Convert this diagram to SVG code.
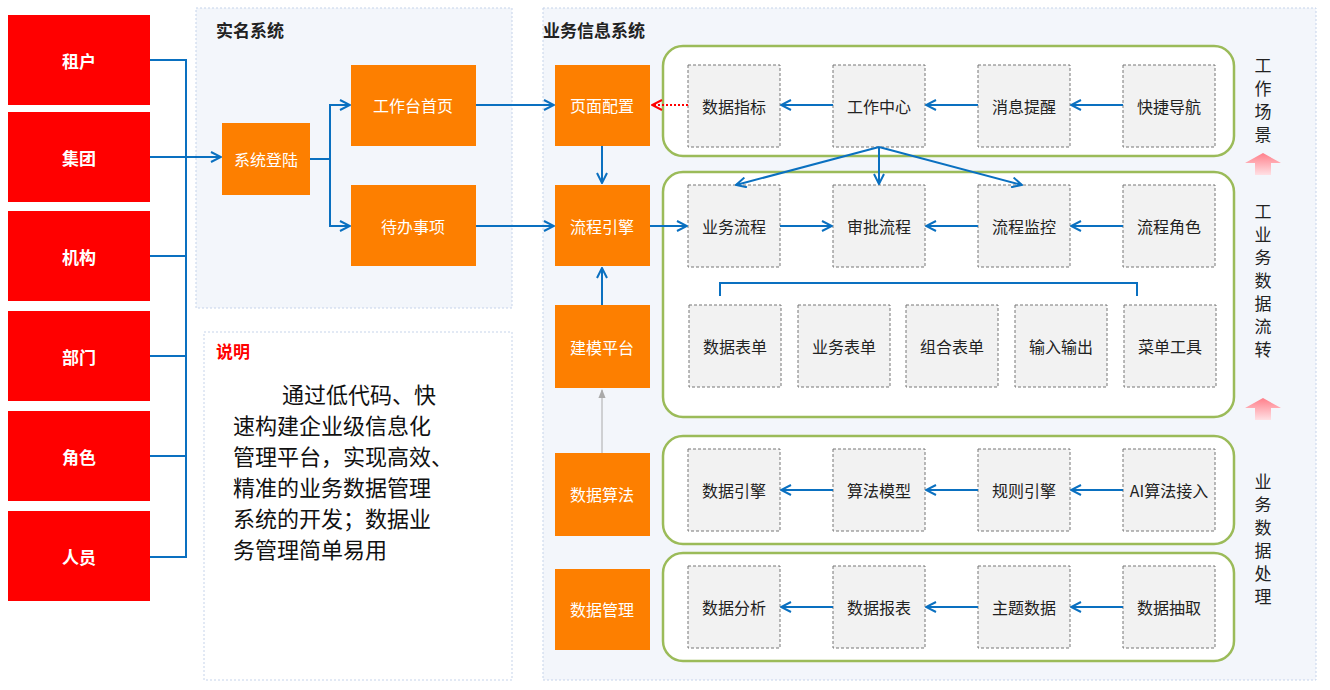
<svg xmlns="http://www.w3.org/2000/svg" width="1330" height="690" viewBox="0 0 1330 690">
<style>
text{font-family:"Noto Sans CJK SC","Liberation Sans",sans-serif;}
.red{fill:#ff0000}
.rt{fill:#fff;font-size:17px;font-weight:bold;text-anchor:middle;dominant-baseline:central}
.or{fill:#fd7f00}
.ot{fill:#fff;font-size:16px;text-anchor:middle;dominant-baseline:central}
.gb{fill:#f2f2f2;stroke:#777;stroke-dasharray:3 2;stroke-width:1}
.gt{fill:#222;font-size:16px;text-anchor:middle;dominant-baseline:central}
.grn{fill:#fff;stroke:#9bbb59;stroke-width:2.5}
.pan{fill:#f3f6fb;stroke:#c5d3ea;stroke-dasharray:2 2}
.ln{fill:none;stroke:#0a70c0;stroke-width:2}
.vt{fill:#222;font-size:17px;text-anchor:middle}
</style>
<defs>
<marker id="a" viewBox="0 0 12 12" refX="11" refY="6" markerWidth="12" markerHeight="12" markerUnits="userSpaceOnUse" orient="auto"><path d="M1,1 L11,6 L1,11" fill="none" stroke="#0a70c0" stroke-width="2"/></marker>
<marker id="ar" viewBox="0 0 12 12" refX="11" refY="6" markerWidth="12" markerHeight="12" markerUnits="userSpaceOnUse" orient="auto"><path d="M1,1 L11,6 L1,11" fill="none" stroke="#ff0000" stroke-width="2"/></marker>
<marker id="ag" viewBox="0 0 10 10" refX="9" refY="5" markerWidth="9" markerHeight="9" markerUnits="userSpaceOnUse" orient="auto"><path d="M0,1 L10,5 L0,9z" fill="#aaa"/></marker>
<linearGradient id="pk" x1="0" y1="0" x2="0" y2="1"><stop offset="0" stop-color="#ff7f8a"/><stop offset="1" stop-color="#ffe0e4"/></linearGradient>
</defs>
<rect width="1330" height="690" fill="#fff"/>
<rect class="pan" x="196" y="8" width="316" height="300"/>
<text x="216" y="37" font-size="17" font-weight="bold" fill="#222">实名系统</text>
<rect x="204" y="332" width="308" height="348" fill="#fff" stroke="#c5d3ea" stroke-dasharray="2 2"/>
<text x="216" y="358" font-size="17" font-weight="bold" fill="#ff0000">说明</text>
<g font-size="22" fill="#111">
<text x="282" y="403">通过低代码、快</text>
<text x="233" y="434">速构建企业级信息化</text>
<text x="233" y="465">管理平台，实现高效、</text>
<text x="233" y="496">精准的业务数据管理</text>
<text x="233" y="527">系统的开发；数据业</text>
<text x="233" y="558">务管理简单易用</text>
</g>
<rect class="pan" x="543" y="8" width="773" height="672"/>
<text x="543" y="37" font-size="17" font-weight="bold" fill="#222">业务信息系统</text>
<rect class="grn" x="663" y="46" width="571" height="110" rx="20"/>
<rect class="grn" x="663" y="172" width="571" height="245" rx="20"/>
<rect class="grn" x="663" y="436" width="571" height="108" rx="20"/>
<rect class="grn" x="663" y="553" width="571" height="108" rx="20"/>
<g id="n-zuhu"><rect class="red" x="8" y="15" width="142" height="90"/><text class="rt" x="79" y="60">租户</text></g>
<g id="n-jituan"><rect class="red" x="8" y="112" width="142" height="90"/><text class="rt" x="79" y="157">集团</text></g>
<g id="n-jigou"><rect class="red" x="8" y="211" width="142" height="90"/><text class="rt" x="79" y="256">机构</text></g>
<g id="n-bumen"><rect class="red" x="8" y="311" width="142" height="90"/><text class="rt" x="79" y="356">部门</text></g>
<g id="n-juese"><rect class="red" x="8" y="411" width="142" height="90"/><text class="rt" x="79" y="456">角色</text></g>
<g id="n-renyuan"><rect class="red" x="8" y="511" width="142" height="90"/><text class="rt" x="79" y="556">人员</text></g>
<g id="n-login"><rect class="or" x="222" y="123" width="88" height="72"/><text class="ot" x="266" y="159">系统登陆</text></g>
<g id="n-home"><rect class="or" x="351" y="65" width="125" height="81"/><text class="ot" x="413" y="105">工作台首页</text></g>
<g id="n-todo"><rect class="or" x="351" y="185" width="125" height="81"/><text class="ot" x="413" y="226">待办事项</text></g>
<g id="n-page"><rect class="or" x="555" y="65" width="95" height="81"/><text class="ot" x="602" y="105">页面配置</text></g>
<g id="n-flow"><rect class="or" x="555" y="185" width="95" height="81"/><text class="ot" x="602" y="226">流程引擎</text></g>
<g id="n-model"><rect class="or" x="555" y="305" width="95" height="83"/><text class="ot" x="602" y="347">建模平台</text></g>
<g id="n-algo"><rect class="or" x="555" y="453" width="95" height="83"/><text class="ot" x="602" y="494">数据算法</text></g>
<g id="n-dm"><rect class="or" x="555" y="569" width="95" height="81"/><text class="ot" x="602" y="609">数据管理</text></g>
<g id="n-r1a"><rect class="gb" x="688" y="65" width="92" height="82"/><text class="gt" x="734" y="106">数据指标</text></g>
<g id="n-r1b"><rect class="gb" x="833" y="65" width="92" height="82"/><text class="gt" x="879" y="106">工作中心</text></g>
<g id="n-r1c"><rect class="gb" x="978" y="65" width="92" height="82"/><text class="gt" x="1024" y="106">消息提醒</text></g>
<g id="n-r1d"><rect class="gb" x="1123" y="65" width="92" height="82"/><text class="gt" x="1169" y="106">快捷导航</text></g>
<g id="n-r2a"><rect class="gb" x="688" y="185" width="92" height="82"/><text class="gt" x="734" y="226">业务流程</text></g>
<g id="n-r2b"><rect class="gb" x="833" y="185" width="92" height="82"/><text class="gt" x="879" y="226">审批流程</text></g>
<g id="n-r2c"><rect class="gb" x="978" y="185" width="92" height="82"/><text class="gt" x="1024" y="226">流程监控</text></g>
<g id="n-r2d"><rect class="gb" x="1123" y="185" width="92" height="82"/><text class="gt" x="1169" y="226">流程角色</text></g>
<g id="n-r3a"><rect class="gb" x="689" y="305" width="92" height="82"/><text class="gt" x="735" y="346">数据表单</text></g>
<g id="n-r3b"><rect class="gb" x="798" y="305" width="92" height="82"/><text class="gt" x="844" y="346">业务表单</text></g>
<g id="n-r3c"><rect class="gb" x="906" y="305" width="92" height="82"/><text class="gt" x="952" y="346">组合表单</text></g>
<g id="n-r3d"><rect class="gb" x="1015" y="305" width="92" height="82"/><text class="gt" x="1061" y="346">输入输出</text></g>
<g id="n-r3e"><rect class="gb" x="1124" y="305" width="92" height="82"/><text class="gt" x="1170" y="346">菜单工具</text></g>
<g id="n-r4a"><rect class="gb" x="688" y="449" width="92" height="82"/><text class="gt" x="734" y="490">数据引擎</text></g>
<g id="n-r4b"><rect class="gb" x="833" y="449" width="92" height="82"/><text class="gt" x="879" y="490">算法模型</text></g>
<g id="n-r4c"><rect class="gb" x="978" y="449" width="92" height="82"/><text class="gt" x="1024" y="490">规则引擎</text></g>
<g id="n-r4d"><rect class="gb" x="1123" y="449" width="92" height="82"/><text class="gt" x="1169" y="490">AI算法接入</text></g>
<g id="n-r5a"><rect class="gb" x="688" y="566" width="92" height="82"/><text class="gt" x="734" y="607">数据分析</text></g>
<g id="n-r5b"><rect class="gb" x="833" y="566" width="92" height="82"/><text class="gt" x="879" y="607">数据报表</text></g>
<g id="n-r5c"><rect class="gb" x="978" y="566" width="92" height="82"/><text class="gt" x="1024" y="607">主题数据</text></g>
<g id="n-r5d"><rect class="gb" x="1123" y="566" width="92" height="82"/><text class="gt" x="1169" y="607">数据抽取</text></g>
<g id="labels">
<text class="vt"><tspan x="1263" y="72">工</tspan><tspan x="1263" y="95">作</tspan><tspan x="1263" y="118">场</tspan><tspan x="1263" y="141">景</tspan></text>
<text class="vt"><tspan x="1263" y="218">工</tspan><tspan x="1263" y="241">业</tspan><tspan x="1263" y="264">务</tspan><tspan x="1263" y="287">数</tspan><tspan x="1263" y="310">据</tspan><tspan x="1263" y="333">流</tspan><tspan x="1263" y="356">转</tspan></text>
<text class="vt"><tspan x="1263" y="488">业</tspan><tspan x="1263" y="511">务</tspan><tspan x="1263" y="534">数</tspan><tspan x="1263" y="557">据</tspan><tspan x="1263" y="580">处</tspan><tspan x="1263" y="603">理</tspan></text>
<path d="M1245,163 L1263,153 L1281,163 L1271,163 L1271,175 L1255,175 L1255,163z" fill="url(#pk)"/>
<path d="M1245,408 L1263,398 L1281,408 L1271,408 L1271,420 L1255,420 L1255,408z" fill="url(#pk)"/>
</g>
<g id="connectors">
<path class="ln" d="M150,60 H186 V557 H150 M150,157 H186 M150,256 H186 M150,356 H186 M150,456 H186"/>
<path class="ln" d="M186,157 H221" marker-end="url(#a)"/>
<path class="ln" d="M310,159 H330 V105 H350" marker-end="url(#a)"/>
<path class="ln" d="M330,159 V226 H350" marker-end="url(#a)"/>
<path class="ln" d="M476,105 H554" marker-end="url(#a)"/>
<path class="ln" d="M476,226 H554" marker-end="url(#a)"/>
<path class="ln" d="M602,146 V183" marker-end="url(#a)"/>
<path class="ln" d="M602,305 V268" marker-end="url(#a)"/>
<path d="M602,453 V390" stroke="#aaa" stroke-width="1" marker-end="url(#ag)"/>
<path d="M688,105 H652" stroke="#ff0000" stroke-width="2" stroke-dasharray="2 2" fill="none" marker-end="url(#ar)"/>
<path class="ln" d="M833,105 H781" marker-end="url(#a)"/>
<path class="ln" d="M978,105 H926" marker-end="url(#a)"/>
<path class="ln" d="M1123,105 H1071" marker-end="url(#a)"/>
<path class="ln" d="M879,147 L736,185" marker-end="url(#a)"/>
<path class="ln" d="M879,147 V184" marker-end="url(#a)"/>
<path class="ln" d="M879,147 L1022,185" marker-end="url(#a)"/>
<path class="ln" d="M650,226 H687" marker-end="url(#a)"/>
<path class="ln" d="M780,226 H832" marker-end="url(#a)"/>
<path class="ln" d="M978,226 H926" marker-end="url(#a)"/>
<path class="ln" d="M1123,226 H1071" marker-end="url(#a)"/>
<path class="ln" d="M720,296 V283 H1137 V296"/>
<path class="ln" d="M833,490 H781" marker-end="url(#a)"/>
<path class="ln" d="M978,490 H926" marker-end="url(#a)"/>
<path class="ln" d="M1123,490 H1071" marker-end="url(#a)"/>
<path class="ln" d="M833,607 H781" marker-end="url(#a)"/>
<path class="ln" d="M978,607 H926" marker-end="url(#a)"/>
<path class="ln" d="M1123,607 H1071" marker-end="url(#a)"/>
</g>
</svg>
